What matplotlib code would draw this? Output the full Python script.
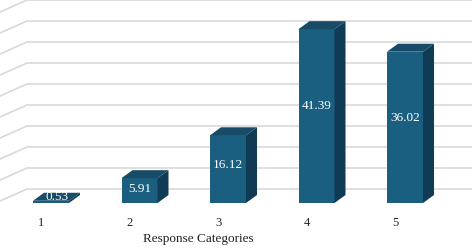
import matplotlib.pyplot as plt
from matplotlib.patches import Polygon

categories = ["1", "2", "3", "4", "5"]
values = [0.53, 5.91, 16.12, 41.39, 36.02]
grid_values = [0, 5, 10, 15, 20, 25, 30, 35, 40, 45]

front_col = "#1b5f80"
side_col = "#0f3c54"
top_col = "#184b67"

# scale: one category = 88.5 px, one unit = 4.2 px
px_x = 1 / 88.5
px_y = 1 / 4.2
bar_w = 36 * px_x
dx = 11 * px_x
dy = 8 * px_y


def main():
    plt.rcParams['font.family'] = ['Liberation Serif', 'DejaVu Serif']
    fig = plt.figure(figsize=(4.72, 2.49), dpi=100)
    ax = fig.add_axes([0, 0, 1, 1])
    x0 = 1 - 51 * px_x
    ax.set_xlim(x0, x0 + 472 * px_x)
    ax.set_ylim(-46 * px_y, 203 * px_y)
    ax.axis("off")

    # back wall + side wall gridlines
    wall_dy = 14 * px_y
    for g in grid_values:
        yb = g + wall_dy
        ax.plot([x0, x0 + 27 * px_x, x0 + 472 * px_x],
                [yb - 12 * px_y, yb, yb],
                color="#d9d9d9", lw=1.2, zorder=0)

    xs = list(range(1, len(values) + 1))
    ax.bar(xs, values, width=bar_w, color=front_col, zorder=2, linewidth=0)
    for x, v in zip(xs, values):
        l = x - bar_w / 2
        r = x + bar_w / 2
        side = Polygon([(r, 0), (r + dx, dy), (r + dx, v + dy), (r, v)],
                       closed=True, color=side_col, lw=0, zorder=2)
        top = Polygon([(l, v), (r, v), (r + dx, v + dy), (l + dx, v + dy)],
                      closed=True, color=top_col, lw=0, zorder=3)
        ax.add_patch(side)
        ax.add_patch(top)
        if v < 2:
            tx, ty = x + dx / 2, v + dy / 2
        else:
            tx, ty = x, v * 0.56
        ax.text(tx, ty, f"{v:.2f}", color="white", ha="center", va="center",
                fontsize=9.5, zorder=4)
        ax.text(x - 10 * px_x, -20 * px_y, categories[x - 1], ha="center",
                va="center", fontsize=9, color="#222222")

    ax.text(x0 + 198 * px_x, -36 * px_y, "Response Categories", ha="center",
            va="center", fontsize=9.5, color="#222222")

    fig.savefig("out.png", dpi=100)


if __name__ == "__main__":
    main()
